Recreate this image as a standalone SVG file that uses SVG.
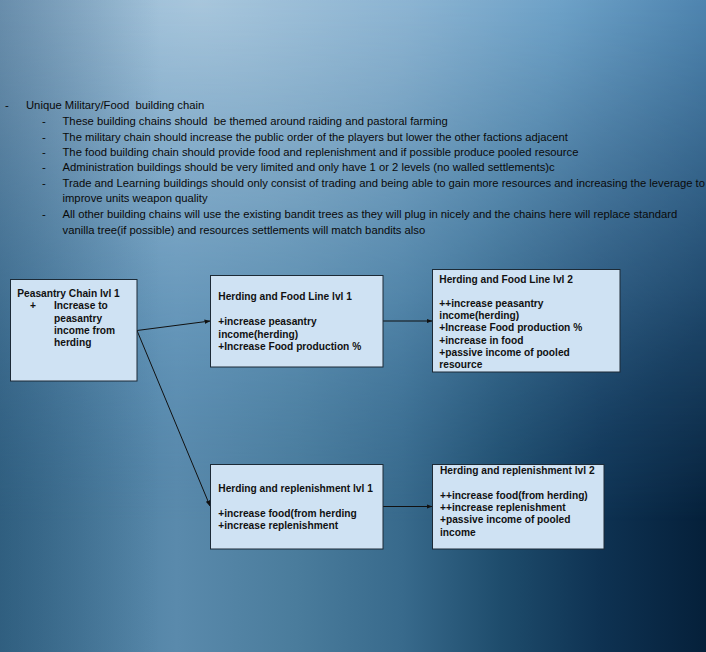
<svg xmlns="http://www.w3.org/2000/svg" width="706" height="652" viewBox="0 0 706 652">
<defs>
<linearGradient id="base" x1="0" y1="0" x2="706" y2="0" gradientUnits="userSpaceOnUse">
<stop offset="0" stop-color="#3c7294"/>
<stop offset="0.25" stop-color="#5a8aac"/>
<stop offset="0.42" stop-color="#4a7c9c"/>
<stop offset="0.57" stop-color="#386a8c"/>
<stop offset="0.71" stop-color="#1e4c6c"/>
<stop offset="0.85" stop-color="#0e3252"/>
<stop offset="1" stop-color="#05203a"/>
</linearGradient>
<radialGradient id="glow" cx="200" cy="0" r="600" gradientUnits="userSpaceOnUse">
<stop offset="0" stop-color="#a8c6dc"/>
<stop offset="0.35" stop-color="#8cb4d2"/>
<stop offset="0.6" stop-color="#6ea2c8"/>
<stop offset="1" stop-color="#3a72a0"/>
</radialGradient>
<linearGradient id="fade" x1="0" y1="0" x2="0" y2="652" gradientUnits="userSpaceOnUse">
<stop offset="0" stop-color="#fff" stop-opacity="1"/>
<stop offset="0.45" stop-color="#fff" stop-opacity="0.5"/>
<stop offset="0.8" stop-color="#fff" stop-opacity="0"/>
</linearGradient>
<mask id="fadeMask" maskUnits="userSpaceOnUse" x="0" y="0" width="706" height="652">
<rect width="706" height="652" fill="url(#fade)"/>
</mask>
<linearGradient id="vign" x1="0" y1="0" x2="160" y2="0" gradientUnits="userSpaceOnUse">
<stop offset="0" stop-color="#143250" stop-opacity="0.3"/>
<stop offset="1" stop-color="#143250" stop-opacity="0"/>
</linearGradient>
<marker id="arr" markerWidth="6" markerHeight="6" refX="5.5" refY="3" orient="auto" markerUnits="userSpaceOnUse">
<path d="M0,0.8 L6,3 L0,5.2 z" fill="#111"/>
</marker>
<style>
.body text{font-family:"Liberation Sans",Arial,sans-serif;font-size:11.25px;fill:#0a0a0a;white-space:pre}
.box{fill:#cfe2f3;stroke:#1c2a36;stroke-width:1}
.t{font-family:"Liberation Sans",Arial,sans-serif;font-size:10.2px;font-weight:bold;fill:#111}
.conn{stroke:#111;stroke-width:1;fill:none;marker-end:url(#arr)}
</style>
</defs>
<rect width="706" height="652" fill="url(#base)"/>
<rect width="706" height="652" fill="url(#glow)" mask="url(#fadeMask)"/>
<rect width="706" height="652" fill="url(#vign)"/>

<g id="notes" class="body">
<text x="5" y="109">-</text><text x="26" y="109" xml:space="preserve">Unique Military/Food  building chain</text>
<text x="42" y="124.7">-</text><text x="62.5" y="124.7" xml:space="preserve">These building chains should  be themed around raiding and pastoral farming</text>
<text x="42" y="140.5">-</text><text x="62.5" y="140.5">The military chain should increase the public order of the players but lower the other factions adjacent</text>
<text x="42" y="155.7">-</text><text x="62.5" y="155.7">The food building chain should provide food and replenishment and if possible produce pooled resource</text>
<text x="42" y="170.8">-</text><text x="62.5" y="170.8">Administration buildings should be very limited and only have 1 or 2 levels (no walled settlements)c</text>
<text x="42" y="186.7">-</text><text x="62.5" y="186.7">Trade and Learning buildings should only consist of trading and being able to gain more resources and increasing the leverage to</text>
<text x="62.5" y="202.3">improve units weapon quality</text>
<text x="42" y="218">-</text><text x="62.5" y="218">All other building chains will use the existing bandit trees as they will plug in nicely and the chains here will replace standard</text>
<text x="62.5" y="234">vanilla tree(if possible) and resources settlements will match bandits also</text>
</g>

<g id="connectors">
<line class="conn" x1="137" y1="330.5" x2="210" y2="321"/>
<line class="conn" x1="137" y1="330.5" x2="210" y2="506"/>
<line class="conn" x1="383" y1="321" x2="432" y2="321"/>
<line class="conn" x1="383" y1="506.5" x2="432" y2="506.5"/>
</g>

<g id="peasantry">
<rect class="box" x="10.5" y="279.5" width="126.5" height="101.5"/>
<text class="t" x="17.3" y="297">Peasantry Chain lvl 1</text>
<text class="t" x="30" y="309.3">+</text>
<text class="t" x="54" y="309.3">Increase to</text>
<text class="t" x="54" y="321.6">peasantry</text>
<text class="t" x="54" y="334">income from</text>
<text class="t" x="54" y="346.3">herding</text>
</g>

<g id="food1">
<rect class="box" x="210.5" y="275.5" width="172.5" height="91.5"/>
<text class="t" x="218.3" y="300.3">Herding and Food Line lvl 1</text>
<text class="t" x="218.3" y="325.3">+increase peasantry</text>
<text class="t" x="218.3" y="337.6">income(herding)</text>
<text class="t" x="218.3" y="349.9">+Increase Food production %</text>
</g>

<g id="food2">
<rect class="box" x="432.5" y="269.5" width="187.5" height="102.5"/>
<text class="t" x="439.3" y="282.6">Herding and Food Line lvl 2</text>
<text class="t" x="439.3" y="306.6">++increase peasantry</text>
<text class="t" x="439.3" y="318.9">income(herding)</text>
<text class="t" x="439.3" y="331.2">+Increase Food production %</text>
<text class="t" x="439.3" y="343.5">+increase in food</text>
<text class="t" x="439.3" y="355.8">+passive income of pooled</text>
<text class="t" x="439.3" y="368.1">resource</text>
</g>

<g id="repl1">
<rect class="box" x="210.5" y="464.5" width="172.5" height="84.5"/>
<text class="t" x="218.3" y="492">Herding and replenishment lvl 1</text>
<text class="t" x="218.3" y="517">+increase food(from herding</text>
<text class="t" x="218.3" y="529.3">+increase replenishment</text>
</g>

<g id="repl2">
<rect class="box" x="432.5" y="464.5" width="171.5" height="84.5"/>
<text class="t" x="440" y="473.6">Herding and replenishment lvl 2</text>
<text class="t" x="440" y="498.6">++increase food(from herding)</text>
<text class="t" x="440" y="510.9">++increase replenishment</text>
<text class="t" x="440" y="523.2">+passive income of pooled</text>
<text class="t" x="440" y="535.5">income</text>
</g>
</svg>
